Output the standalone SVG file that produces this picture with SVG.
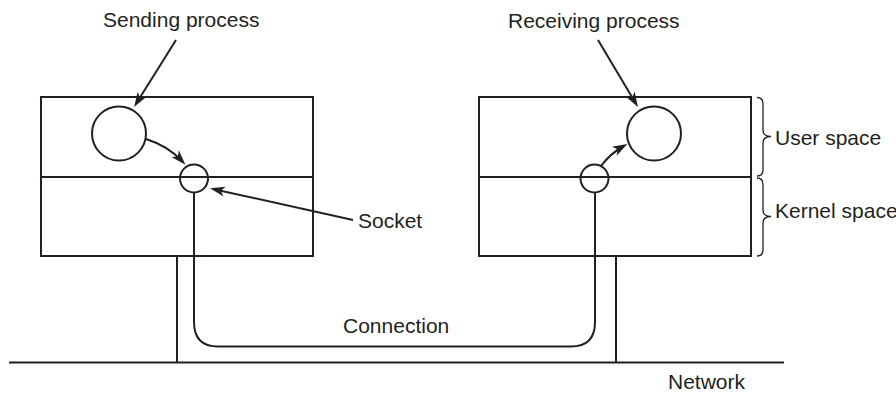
<svg xmlns="http://www.w3.org/2000/svg" width="896" height="394" viewBox="0 0 896 394">
<style>
.ln{fill:none;stroke:#231f20;stroke-width:2}
.br{fill:none;stroke:#231f20;stroke-width:1.3}
.t{font-family:"Liberation Sans",Arial,sans-serif;font-size:21px;fill:#231f20}
</style>
<defs>
<marker id="ah" markerUnits="userSpaceOnUse" markerWidth="16" markerHeight="12" viewBox="-16 -6 16 12" refX="-5" refY="0" orient="auto" overflow="visible">
<path d="M0,0 L-15,-5 L-11,0 L-15,5 Z" fill="#231f20"/>
</marker>
</defs>
<rect width="896" height="394" fill="#fff"/>
<g id="sending-host">
<rect class="ln" x="41" y="97" width="272" height="159"/>
<line class="ln" x1="41" y1="177" x2="313" y2="177"/>
</g>
<g id="receiving-host">
<rect class="ln" x="479" y="97" width="272" height="159"/>
<line class="ln" x1="479" y1="177" x2="751" y2="177"/>
</g>
<g id="sending-process"><circle class="ln" cx="119" cy="133.5" r="27"/></g>
<g id="receiving-process"><circle class="ln" cx="654" cy="133.5" r="27"/></g>
<g id="socket-left"><circle class="ln" cx="194" cy="178.5" r="14"/></g>
<g id="socket-right"><circle class="ln" cx="594.5" cy="178.5" r="14"/></g>
<g id="network">
<line class="ln" x1="9" y1="362.5" x2="784" y2="362.5"/>
<line class="ln" x1="177" y1="256" x2="177" y2="362.5"/>
<line class="ln" x1="616" y1="256" x2="616" y2="362.5"/>
</g>
<g id="braces">
<path class="br" d="M757,97.5 Q763,97.5 763,104 L763,130 Q763,136.5 771,136.5 Q763,136.5 763,143 L763,170 Q763,176 757,176"/>
<path class="br" d="M757,178 Q763,178 763,184.5 L763,210 Q763,216.5 771,216.5 Q763,216.5 763,223 L763,250 Q763,256 757,256"/>
</g>
<g id="connectors">
<path class="ln" d="M194,192.5 L194,322 Q194,346.5 218,346.5 L571,346.5 Q595,346.5 595,322 L595,192.5"/>
<line class="ln" x1="176" y1="40" x2="136.7" y2="102.8" marker-end="url(#ah)"/>
<line class="ln" x1="598" y1="40" x2="635.4" y2="102.7" marker-end="url(#ah)"/>
<line class="ln" x1="353" y1="220" x2="214.9" y2="189.4" marker-end="url(#ah)"/>
<path class="ln" d="M146,139 Q168,146 182,161" marker-end="url(#ah)"/>
<path class="ln" d="M601,166 Q611,153 623,146.5" marker-end="url(#ah)"/>
</g>
<g id="labels">
<text class="t" x="103" y="27">Sending process</text>
<text class="t" x="508" y="28">Receiving process</text>
<text class="t" x="775" y="145">User space</text>
<text class="t" x="775" y="218">Kernel space</text>
<text class="t" x="358" y="228">Socket</text>
<text class="t" x="343" y="333">Connection</text>
<text class="t" x="668" y="389">Network</text>
</g>
</svg>
